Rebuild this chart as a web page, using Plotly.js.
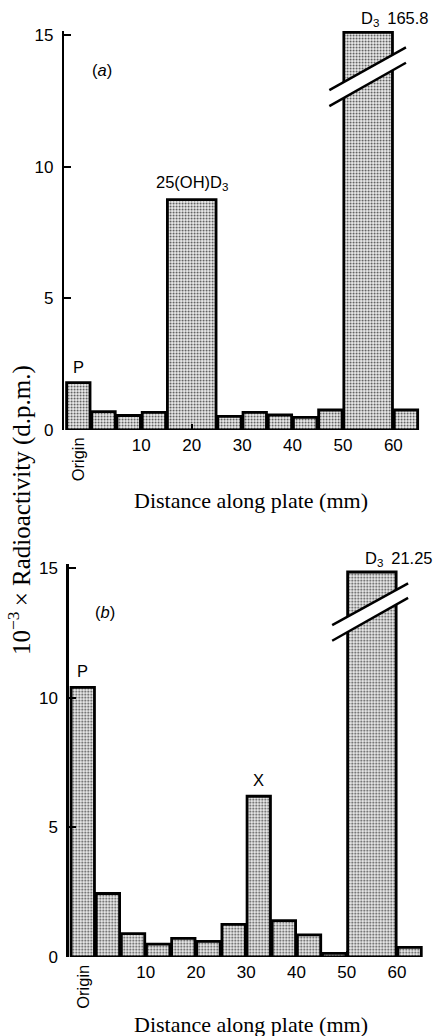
<!DOCTYPE html>
<html>
<head>
<meta charset="utf-8">
<script src="https://cdn.plot.ly/plotly-3.0.1.min.js"></script>
<style>
html,body{margin:0;padding:0;background:#fff;}
#chart{width:443px;height:1036px;}
</style>
</head>
<body>
<div id="chart"></div>
<script>
// ---------- data ----------
// bin edges (mm along plate); first bin is the origin
var edgesA = [-5, 0, 5, 10, 15, 25, 30, 35, 40, 45, 50, 60, 65];
var valuesA = [1.8, 0.7, 0.55, 0.67, 8.75, 0.52, 0.67, 0.57, 0.48, 0.76, 165.8, 0.76];
var peakLabelsA = ['P', '', '', '', '25(OH)D<sub>3</sub>', '', '', '', '', '', 'D<sub>3</sub>', ''];

var edgesB = [-5, 0, 5, 10, 15, 20, 25, 30, 35, 40, 45, 50, 60, 65];
var valuesB = [10.4, 2.45, 0.9, 0.5, 0.72, 0.6, 1.26, 6.2, 1.4, 0.85, 0.14, 21.25, 0.37];
var peakLabelsB = ['P', '', '', '', '', '', '', 'X', '', '', '', 'D<sub>3</sub>', ''];

// axis break: bars above the cap are drawn cut
var capA = 15.1;
var capB = 14.85;

var xTickVals = [10, 20, 30, 40, 50, 60];
var xTickText = ['10', '20', '30', '40', '50', '60'];
var yTickVals = [0, 5, 10, 15];
var originLabel = 'Origin';
var xTitle = 'Distance along plate (mm)';
var yTitle = '10<sup>\u22123</sup>\u2009\u00d7 Radioactivity (d.p.m.)';

// ---------- helpers ----------
var SANS = 'Liberation Sans, Arial, sans-serif';
var SERIF = 'Liberation Serif, Times New Roman, serif';
var GAP = 0.35;

function barTrace(edges, values, cap, xa, ya) {
  var x = [], w = [], y = [];
  for (var i = 0; i < values.length; i++) {
    x.push((edges[i] + edges[i + 1]) / 2);
    w.push(edges[i + 1] - edges[i] - GAP);
    y.push(Math.min(values[i], cap));
  }
  return {
    type: 'bar', x: x, y: y, width: w, xaxis: xa, yaxis: ya,
    marker: {
      color: '#e8e8e8',
      line: {color: '#000', width: 2.8},
      pattern: {shape: '.', fgcolor: '#444', bgcolor: '#f0f0f0', size: 3, solidity: 0.3, fillmode: 'replace'}
    },
    hoverinfo: 'none', showlegend: false
  };
}

function peakAnnotations(edges, values, labels, cap, xa, ya) {
  var out = [];
  for (var i = 0; i < values.length; i++) {
    if (!labels[i]) continue;
    var cut = values[i] > cap;
    var txt = cut ? labels[i] + '\u2009 ' + values[i] : labels[i];
    out.push({
      xref: xa, yref: ya,
      x: cut ? edges[i] : (edges[i] + edges[i + 1]) / 2,
      y: Math.min(values[i], cap),
      text: txt, showarrow: false,
      xanchor: cut ? 'left' : 'center', yanchor: 'bottom',
      xshift: cut ? 16 : 0, yshift: cut ? 1 : 5,
      font: {family: SANS, size: 16.5, color: '#000'}
    });
  }
  return out;
}

function breakShapes(xa, ya, x0, x1, l1, l2) {
  return [
    {type: 'path', xref: xa, yref: ya, layer: 'above',
     path: 'M' + x0 + ',' + l1[0] + ' L' + x1 + ',' + l1[1] + ' L' + x1 + ',' + l2[1] + ' L' + x0 + ',' + l2[0] + ' Z',
     fillcolor: '#fff', line: {width: 0}},
    {type: 'line', xref: xa, yref: ya, layer: 'above', x0: x0, x1: x1, y0: l1[0], y1: l1[1], line: {color: '#000', width: 2.4}},
    {type: 'line', xref: xa, yref: ya, layer: 'above', x0: x0, x1: x1, y0: l2[0], y1: l2[1], line: {color: '#000', width: 2.4}}
  ];
}

var xAxisCommon = {
  range: [-5.3, 66], showgrid: false, zeroline: false, showline: false,
  tickmode: 'array', tickvals: xTickVals, ticktext: xTickText,
  ticks: 'inside', ticklen: 6, tickwidth: 2, tickcolor: '#000',
  ticklabelstandoff: 3,
  tickfont: {family: SANS, size: 17, color: '#000'}, fixedrange: true
};
var yAxisCommon = {
  range: [0, 15.15], showgrid: false, zeroline: false,
  showline: true, linewidth: 2.4, linecolor: '#000',
  tickmode: 'array', tickvals: yTickVals,
  ticks: 'inside', ticklen: 7, tickwidth: 2.2, tickcolor: '#000',
  ticklabelstandoff: 5,
  tickfont: {family: SANS, size: 17, color: '#000'}, fixedrange: true
};

var W = 443, H = 1036;
function dx(a, b) { return [a / W, b / W]; }
function dy(top, bottom) { return [(H - bottom) / H, (H - top) / H]; }

var layout = {
  width: W, height: H,
  margin: {l: 0, r: 0, t: 0, b: 0},
  paper_bgcolor: '#fff', plot_bgcolor: 'rgba(0,0,0,0)',
  bargap: 0,
  xaxis: Object.assign({}, xAxisCommon, {domain: dx(64.2, 423.6), anchor: 'y'}),
  yaxis: Object.assign({}, yAxisCommon, {domain: dy(31.1, 430), anchor: 'x'}),
  xaxis2: Object.assign({}, xAxisCommon, {domain: dx(68.7, 427.2), anchor: 'y2'}),
  yaxis2: Object.assign({}, yAxisCommon, {domain: dy(564.2, 957), anchor: 'x2'}),
  shapes: [].concat(
    breakShapes('x', 'y', 47.3, 62.5, [12.91, 14.53], [12.30, 13.95]),
    breakShapes('x2', 'y2', 47.1, 62.2, [12.80, 14.41], [12.20, 13.85])
  ),
  annotations: [].concat(
    peakAnnotations(edgesA, valuesA, peakLabelsA, capA, 'x', 'y'),
    peakAnnotations(edgesB, valuesB, peakLabelsB, capB, 'x2', 'y2'),
    [
      {xref: 'x', yref: 'y', x: (edgesA[0] + edgesA[1]) / 2, y: 0, text: originLabel, textangle: -90,
       showarrow: false, xanchor: 'center', yanchor: 'top', yshift: -5,
       font: {family: SANS, size: 16.5, color: '#000'}},
      {xref: 'x2', yref: 'y2', x: (edgesB[0] + edgesB[1]) / 2, y: 0, text: originLabel, textangle: -90,
       showarrow: false, xanchor: 'center', yanchor: 'top', yshift: -6,
       font: {family: SANS, size: 16.5, color: '#000'}},
      {xref: 'x', yref: 'y', x: 2.2, y: 13.67, text: '(<i>a</i>)', showarrow: false,
       font: {family: SANS, size: 16.5, color: '#000'}},
      {xref: 'x2', yref: 'y2', x: 1.9, y: 13.3, text: '(<i>b</i>)', showarrow: false,
       font: {family: SANS, size: 16.5, color: '#000'}},
      {xref: 'paper', yref: 'paper', x: 251 / W, y: (H - 500) / H, text: xTitle, showarrow: false,
       xanchor: 'center', yanchor: 'middle', font: {family: SERIF, size: 22, color: '#000'}},
      {xref: 'paper', yref: 'paper', x: 251 / W, y: (H - 1024) / H, text: xTitle, showarrow: false,
       xanchor: 'center', yanchor: 'middle', font: {family: SERIF, size: 22, color: '#000'}},
      {xref: 'paper', yref: 'paper', x: 19 / W, y: (H - 510) / H, text: yTitle, showarrow: false,
       textangle: -90, xanchor: 'center', yanchor: 'middle', font: {family: SERIF, size: 25, color: '#000'}}
    ]
  )
};

var data = [
  barTrace(edgesA, valuesA, capA, 'x', 'y'),
  barTrace(edgesB, valuesB, capB, 'x2', 'y2')
];

Plotly.newPlot('chart', data, layout, {staticPlot: true, displayModeBar: false});
</script>
</body>
</html>
